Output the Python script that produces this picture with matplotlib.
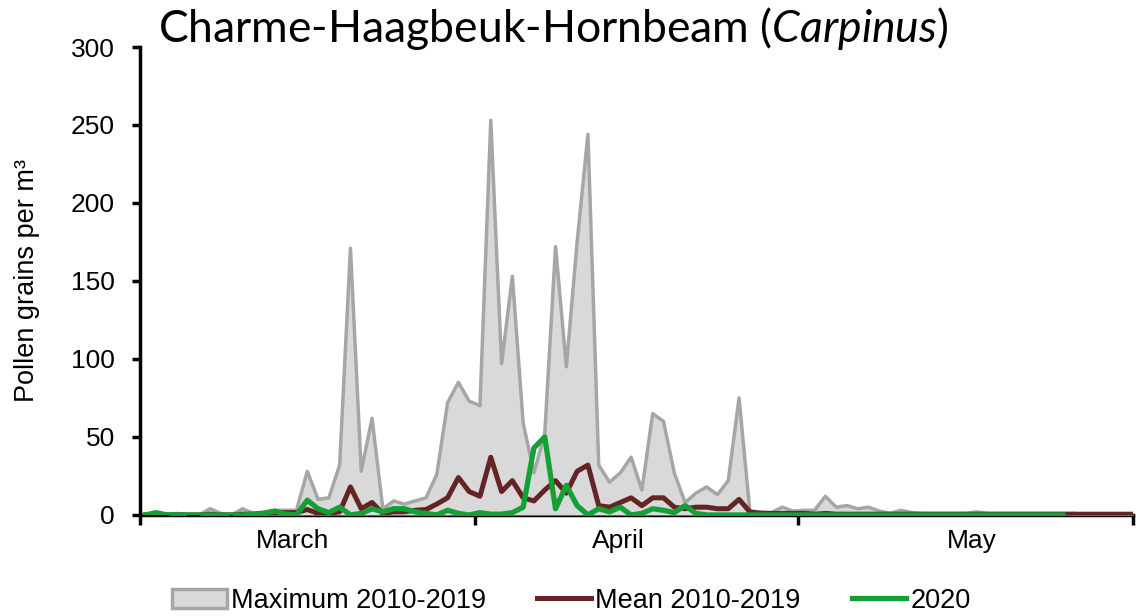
import matplotlib
matplotlib.use('Agg')
import matplotlib.pyplot as plt
from matplotlib.patches import Patch
from matplotlib.lines import Line2D
import numpy as np

# daily values, 1 March .. 31 May (92 days)
max_2010_2019 = [
    0, 0, 0, 1, 0, 0, 4, 1, 0, 4, 1, 2, 3, 3, 3,
    28, 10, 11, 32, 171, 28, 62, 4, 9, 7, 9, 11, 26, 72, 85, 73,  # end of March
    70, 253, 97, 153, 59, 27, 52, 172, 95, 175, 244, 32, 21, 27, 37,
    16, 65, 60, 27, 8, 14, 18, 13, 22, 75, 2.5, 2, 1.5, 5, 2.5,  # end of April
    3, 3, 12, 5, 6, 4, 5, 2.5, 1, 3, 1.5, 1, 1, 1, 1, 1, 2, 1,
    1, 1, 1, 1, 1, 1, 1, 1, 0.5, 0.5, 0.5, 0.5, 0.5, 0.5,
]
mean_2010_2019 = [
    0, 0, 0, 0, 0, 0, 0.5, 0, 0, 0.5, 0.5, 1, 1.5, 1.5, 1.5,
    3.5, 1, 1, 2, 18, 4, 8, 1, 2, 2, 3, 3.5, 7, 11, 24, 15,
    12, 37, 15, 22, 11, 9, 16, 22, 14, 28, 32, 6, 5, 8, 11,
    6, 11, 11, 5, 4, 5, 5, 4, 4, 10, 2, 1, 1, 1, 1,
    1, 0.5, 1, 0.5, 0.5, 0.5, 0.5, 0.5, 0.5, 0.5, 0.5, 0.5, 0.5, 0.5, 0.5, 0.5, 0.5, 0.5,
    0.5, 0.5, 0.5, 0.5, 0.5, 0.5, 0.5, 0.5, 0.5, 0.5, 0.5, 0.5, 0.5, 0.5,
]
pollen_2020 = [
    0, 1.5, 0, 0, 0, 0, 0, 0, 0, 0, 0.5, 1, 2.5, 0.5, 0,
    9.5, 4, 1.5, 5, 0, 1, 4, 2, 4, 4, 2, 1, 0, 3, 1, 0,
    1.5, 0.5, 0.5, 1.5, 5, 43, 50, 4, 19, 6, 0, 4, 2, 5, 0,
    1, 4, 3, 1.5, 6, 1, 0, 0, 0, 0, 0, 0, 0, 0, 0,
    0, 0, 0, 0, 0, 0, 0, 0, 0, 0, 0, 0, 0, 0, 0, 0, 0, 0,
    0, 0, 0, 0, 0, 0, 0,
]
months = ['March', 'April', 'May']
month_starts = [0, 31, 61, 92]
month_label_pos = [14.1, 44.3, 77.1]

days = np.arange(len(max_2010_2019)) + 0.5
days_2020 = np.arange(len(pollen_2020)) + 0.5

plt.rcParams['font.family'] = ['Liberation Sans', 'DejaVu Sans']
plt.rcParams['mathtext.fontset'] = 'custom'
plt.rcParams['mathtext.rm'] = 'Lato'
plt.rcParams['mathtext.it'] = 'Lato:italic'

fig = plt.figure(figsize=(11.36, 6.16), dpi=100)
ax = fig.add_axes([0.1232, 0.164, 0.8742, 0.7597])

grey_edge = '#a6a6a6'
grey_fill = '#d9d9d9'
mean_col = '#632523'
green_col = '#13a034'

ax.fill_between(days, 0, max_2010_2019, color=grey_fill, zorder=3, lw=0)
ax.plot(days, max_2010_2019, color=grey_edge, lw=2.5, zorder=4)
ax.plot(days, mean_2010_2019, color=mean_col, lw=3.6, zorder=5)
ax.plot(days_2020, pollen_2020, color=green_col, lw=3.8, zorder=6)

ax.set_xlim(0, 92)
ax.set_ylim(0, 300)
ax.set_yticks(range(0, 301, 50))
ax.set_xticks(month_starts)
ax.set_xticklabels([])
ax.set_xticks(month_label_pos, minor=True)
ax.set_xticklabels(months, minor=True)
ax.tick_params(axis='x', which='minor', length=0, labelsize=19, pad=10)
ax.tick_params(axis='x', which='major', length=7, width=2.5, direction='out')
ax.tick_params(axis='y', length=6, width=2.5, direction='out', labelsize=19, pad=12)

for s in ['top', 'right']:
    ax.spines[s].set_visible(False)
for s in ['left', 'bottom']:
    ax.spines[s].set_linewidth(2.5)

ax.set_ylabel('Pollen grains per m³', fontsize=19.5, labelpad=22)

fig.text(0.139, 0.953, r'Charme-Haagbeuk-Hornbeam ($\mathit{Carpinus}$)',
         fontsize=32, family='Lato', ha='left', va='center')

handles = [
    Patch(facecolor=grey_fill, edgecolor=grey_edge, lw=2.5),
    Line2D([], [], color=mean_col, lw=3.6),
    Line2D([], [], color=green_col, lw=3.8),
]
fig.legend(handles, ['Maximum 2010-2019', 'Mean 2010-2019', '2020'],
           loc='center', bbox_to_anchor=(0.503, 0.025), ncol=3, frameon=False,
           fontsize=19.5, handlelength=2.0, handletextpad=0.15, columnspacing=1.9)

fig.savefig('out.png', dpi=100)
